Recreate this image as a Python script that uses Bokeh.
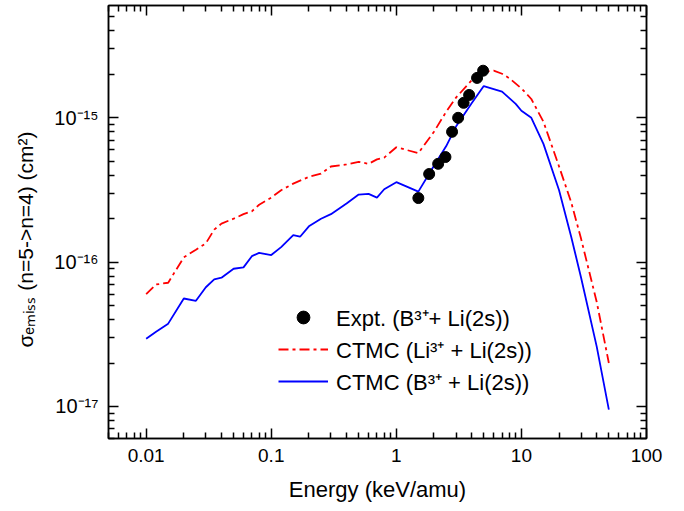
import math
from bokeh.plotting import figure
from bokeh.models import Range1d, LogAxis, FixedTicker, Legend, LegendItem
from bokeh.embed import file_html
from bokeh.resources import INLINE

# ---------------- data ----------------
E_li = [0.01, 0.012, 0.015, 0.02, 0.025, 0.03, 0.035, 0.04, 0.05, 0.06, 0.07, 0.08,
        0.1, 0.12, 0.15, 0.2, 0.25, 0.3, 0.4, 0.5, 0.6, 0.7, 0.8, 1.0, 1.5, 2.0,
        2.5, 3.0, 4.0, 5.0, 6.0, 7.0, 8.0, 10, 12, 15, 20, 25, 30, 40, 50]
sig_li = [6.0e-17, 7.0e-17, 7.2e-17, 1.08e-16, 1.22e-16, 1.35e-16, 1.68e-16, 1.85e-16,
          2.0e-16, 2.15e-16, 2.25e-16, 2.5e-16, 2.8e-16, 3.15e-16, 3.5e-16, 3.9e-16,
          4.1e-16, 4.6e-16, 4.75e-16, 4.95e-16, 4.8e-16, 5.15e-16, 5.3e-16, 6.25e-16,
          5.7e-16, 8.0e-16, 1.1e-15, 1.38e-15, 1.82e-15, 2.08e-15, 2.12e-15, 2.02e-15,
          1.88e-15, 1.6e-15, 1.35e-15, 9.4e-16, 4.6e-16, 2.6e-16, 1.45e-16, 5.3e-17, 2.0e-17]

E_b = [0.01, 0.012, 0.015, 0.02, 0.025, 0.03, 0.035, 0.04, 0.05, 0.06, 0.07, 0.08,
       0.1, 0.12, 0.15, 0.17, 0.2, 0.25, 0.3, 0.4, 0.5, 0.6, 0.7, 0.8, 1.0, 1.2, 1.5,
       2.0, 2.5, 3.0, 4.0, 5.0, 7.0, 8.0, 9.0, 10, 12, 15, 20, 25, 30, 40, 50]
sig_b = [2.95e-17, 3.3e-17, 3.75e-17, 5.6e-17, 5.4e-17, 6.7e-17, 7.6e-17, 7.8e-17,
         9.0e-17, 9.2e-17, 1.1e-16, 1.16e-16, 1.12e-16, 1.27e-16, 1.54e-16, 1.5e-16,
         1.77e-16, 2.0e-16, 2.15e-16, 2.55e-16, 2.94e-16, 2.97e-16, 2.8e-16, 3.2e-16,
         3.58e-16, 3.35e-16, 3.08e-16, 4.65e-16, 6.35e-16, 8.7e-16, 1.26e-15, 1.66e-15,
         1.52e-15, 1.37e-15, 1.25e-15, 1.12e-15, 1.0e-15, 6.6e-16, 3.15e-16, 1.5e-16,
         7.8e-17, 2.6e-17, 9.5e-18]

E_exp = [1.5, 1.83, 2.16, 2.47, 2.79, 3.12, 3.45, 3.82, 4.42, 4.94]
sig_exp = [2.78e-16, 4.08e-16, 4.8e-16, 5.35e-16, 8.0e-16, 1.0e-15, 1.27e-15, 1.44e-15,
           1.89e-15, 2.12e-15]

x_ticks = [0.01, 0.1, 1, 10, 100]
x_tick_labels = ["0.01", "0.1", "1", "10", "100"]
y_ticks = [1e-17, 1e-16, 1e-15]
y_tick_labels = ["10\u207b\u00b9\u2077", "10\u207b\u00b9\u2076", "10\u207b\u00b9\u2075"]

x_title = "Energy (keV/amu)"
y_title = "\u03c3\u2091\u2098\u1d62\u209b\u209b (n=5->n=4) (cm\u00b2)"

legend_labels = ["Expt. (B\u00b3\u207a+ Li(2s))",
                 "CTMC (Li\u00b3\u207a + Li(2s))",
                 "CTMC (B\u00b3\u207a + Li(2s))"]

# ---------------- layout ----------------
W, H = 684, 511
BL, BR, BT, BB = 108, 38, 5, 73
X0, X1 = 0.005, 100.0
Y0, Y1 = 6.0e-18, 6.0e-15
FONT = "Liberation Sans"

x_minor = [m * 10.0 ** k for k in range(-3, 2) for m in range(2, 10)]
x_minor = [v for v in x_minor if X0 <= v <= X1]
y_minor = [m * 10.0 ** k for k in range(-18, -14) for m in range(2, 10)]
y_minor = [v for v in y_minor if Y0 <= v <= Y1]

p = figure(width=W, height=H, x_axis_type="log", y_axis_type="log",
           x_range=Range1d(X0, X1), y_range=Range1d(Y0, Y1),
           output_backend="svg", toolbar_location=None,
           min_border_left=BL, min_border_right=BR, min_border_top=BT,
           min_border_bottom=BB)
p.grid.visible = False
p.outline_line_color = "black"
p.outline_line_width = 1.5
p.background_fill_color = "white"
p.border_fill_color = "white"


def style_axis(ax, ticks, minor, labels):
    ax.ticker = FixedTicker(ticks=ticks, minor_ticks=minor)
    ax.axis_line_color = "black"
    ax.axis_line_width = 1.5
    ax.major_tick_in = 10
    ax.major_tick_out = 0
    ax.minor_tick_in = 6
    ax.minor_tick_out = 0
    ax.major_tick_line_width = 1.5
    ax.minor_tick_line_width = 1.5
    ax.major_tick_line_color = "black"
    ax.minor_tick_line_color = "black"
    ax.major_label_text_font = FONT
    ax.axis_label_text_font = FONT
    ax.axis_label_text_font_style = "normal"
    ax.axis_label_text_color = "black"
    ax.major_label_text_color = "black"
    ax.major_label_overrides = dict(zip(ticks, labels))


style_axis(p.xaxis[0], x_ticks, x_minor, x_tick_labels)
p.xaxis[0].major_label_text_font_size = "19px"
p.xaxis[0].major_label_standoff = 10
p.xaxis[0].axis_label = x_title
p.xaxis[0].axis_label_text_font_size = "22px"
p.xaxis[0].axis_label_standoff = 12

style_axis(p.yaxis[0], y_ticks, y_minor, y_tick_labels)
p.yaxis[0].major_label_text_font_size = "20px"
p.yaxis[0].major_label_standoff = 10
# trailing no-break spaces nudge the centred title slightly downward, as in the reference
p.yaxis[0].axis_label = y_title + "\u00a0" * 6
p.yaxis[0].axis_label_text_font_size = "21px"
p.yaxis[0].axis_label_standoff = 14

# mirrored tick-only axes on top and right
top_ax = LogAxis()
style_axis(top_ax, x_ticks, x_minor, [""] * len(x_ticks))
top_ax.major_label_text_font_size = "1px"
top_ax.major_label_standoff = 0
p.add_layout(top_ax, "above")
right_ax = LogAxis()
style_axis(right_ax, y_ticks, y_minor, [""] * len(y_ticks))
right_ax.major_label_text_font_size = "1px"
right_ax.major_label_standoff = 0
p.add_layout(right_ax, "right")

# ---------------- series ----------------
r_li = p.line(E_li, sig_li, line_color="#ff0000", line_width=1.8, line_dash="10 4 3 4")
r_b = p.line(E_b, sig_b, line_color="#0000ff", line_width=1.8)
r_exp = p.scatter(E_exp, sig_exp, size=11, fill_color="black", line_color="black")

legend = Legend(items=[LegendItem(label=legend_labels[0], renderers=[r_exp]),
                       LegendItem(label=legend_labels[1], renderers=[r_li]),
                       LegendItem(label=legend_labels[2], renderers=[r_b])],
                location=(170, 41), orientation="vertical",
                padding=0, margin=0, spacing=0,
                glyph_width=50, glyph_height=32, label_height=32,
                label_standoff=8, border_line_color=None,
                background_fill_alpha=0.0,
                label_text_font=FONT, label_text_font_size="22px",
                label_text_color="black")
p.add_layout(legend)

open("out.html", "w").write(file_html(p, INLINE))
